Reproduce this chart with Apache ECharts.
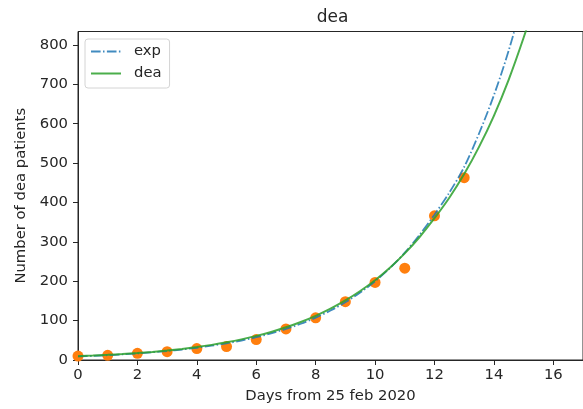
<!DOCTYPE html>
<html>
<head>
<meta charset="utf-8">
<script src="https://cdn.jsdelivr.net/npm/echarts@6/dist/echarts.min.js"></script>
<style>
html,body{margin:0;padding:0;background:#fff;}
#chart{width:583px;height:409px;}
</style>
</head>
<body>
<div id="chart"></div>
<script>
// Observed deaths (orange dots)
const days = [0,1,2,3,4,5,6,7,8,9,10,11,12,13];
const deaths = [10,12,17,21,29,34,52,79,107,148,197,233,366,463];

// Fitted curves
const curveX = [0,0.5,1,1.5,2,2.5,3,3.5,4,4.5,5,5.5,6,6.5,7,7.5,8,8.5,9,9.5,10,10.5,11,11.5,12,12.5,13,13.5,14,14.5,15,15.5];
const expY = [9.0,10.5,12.3,14.3,16.7,19.5,22.8,26.6,31.1,36.3,42.4,49.5,57.8,67.5,78.8,92.0,107.5,125.5,146.5,171.1,199.8,233.3,272.4,318.1,369.0,425.0,490.0,575.0,672.0,786.0,922.0,1080];
const deaY = [9.8,11.3,13.1,15.2,17.6,20.6,24.0,28.0,32.8,38.4,44.9,52.4,61.2,71.3,83.0,96.6,112.2,130.3,151.1,175.1,202.6,234.3,270.6,312.3,360.0,412.0,472.0,541.0,620.0,712.0,818.0,935.0];

const xTicks = [0,2,4,6,8,10,12,14,16];
const yTicks = [0,100,200,300,400,500,600,700,800];

const FONT = 'DejaVu Sans';
const INK = '#262626';
const FS = 14.8;

const chart = echarts.init(document.getElementById('chart'), null, {renderer:'canvas'});
chart.setOption({
  animation: false,
  backgroundColor: '#fff',
  textStyle: {fontFamily: FONT},
  grid: {left: 78, right: -4, top: 31.5, bottom: 48, show: true, borderColor: INK, borderWidth: 1, backgroundColor: 'transparent'},
  graphic: [{
    type: 'text', x: 332.5, y: 18, z: 100,
    style: {text: 'dea', fontFamily: FONT, fontSize: 17, fill: INK, textAlign: 'center', textVerticalAlign: 'middle'}
  }],
  legend: {
    orient: 'vertical', left: 85, top: 39,
    padding: [5, 8, 7, 5], itemGap: 7, itemWidth: 30, itemHeight: 15,
    borderColor: '#d4d4d4', borderWidth: 1, borderRadius: 3, backgroundColor: 'rgba(255,255,255,0.8)',
    itemStyle: {opacity: 0},
    textStyle: {fontFamily: FONT, fontSize: FS, color: INK, padding: [0,0,0,8]},
    data: ['exp', 'dea']
  },
  xAxis: {
    type: 'value', min: 0, max: 17, interval: 2,
    name: 'Days from 25 feb 2020', nameLocation: 'middle', nameGap: 29,
    nameTextStyle: {fontFamily: FONT, fontSize: FS, color: INK},
    axisLine: {show: true, onZero: false, lineStyle: {color: INK, width: 1}},
    axisTick: {show: true, length: 5, lineStyle: {color: INK}, customValues: xTicks},
    axisLabel: {fontFamily: FONT, fontSize: FS, color: INK, margin: 8, customValues: xTicks},
    splitLine: {show: false}
  },
  yAxis: {
    type: 'value', min: 0, max: 834, interval: 100,
    name: 'Number of dea patients', nameLocation: 'middle', nameGap: 48, nameRotate: 90,
    nameTextStyle: {fontFamily: FONT, fontSize: FS, color: INK},
    axisLine: {show: true, onZero: false, lineStyle: {color: INK, width: 1}},
    axisTick: {show: true, length: 5, lineStyle: {color: INK}, customValues: yTicks},
    axisLabel: {fontFamily: FONT, fontSize: FS, color: INK, margin: 10, customValues: yTicks},
    splitLine: {show: false}
  },
  series: [
    {
      name: 'points', type: 'scatter', z: 1, clip: true,
      data: days.map((d, i) => [d, deaths[i]]),
      symbolSize: 11, itemStyle: {color: '#ff7f0e', opacity: 1}
    },
    {
      name: 'exp', type: 'line', z: 2, clip: true, smooth: 0.3,
      data: curveX.map((x, i) => [x, expY[i]]),
      symbol: 'none', showSymbol: false,
      lineStyle: {color: '#1f77b4', width: 1.8, type: [9.6, 2.4, 1.5, 2.4], opacity: 0.85},
      itemStyle: {color: '#1f77b4'}
    },
    {
      name: 'dea', type: 'line', z: 3, clip: true, smooth: 0.3,
      data: curveX.map((x, i) => [x, deaY[i]]),
      symbol: 'none', showSymbol: false,
      lineStyle: {color: '#2ca02c', width: 2, opacity: 0.85},
      itemStyle: {color: '#2ca02c'}
    }
  ]
});
</script>
</body>
</html>
